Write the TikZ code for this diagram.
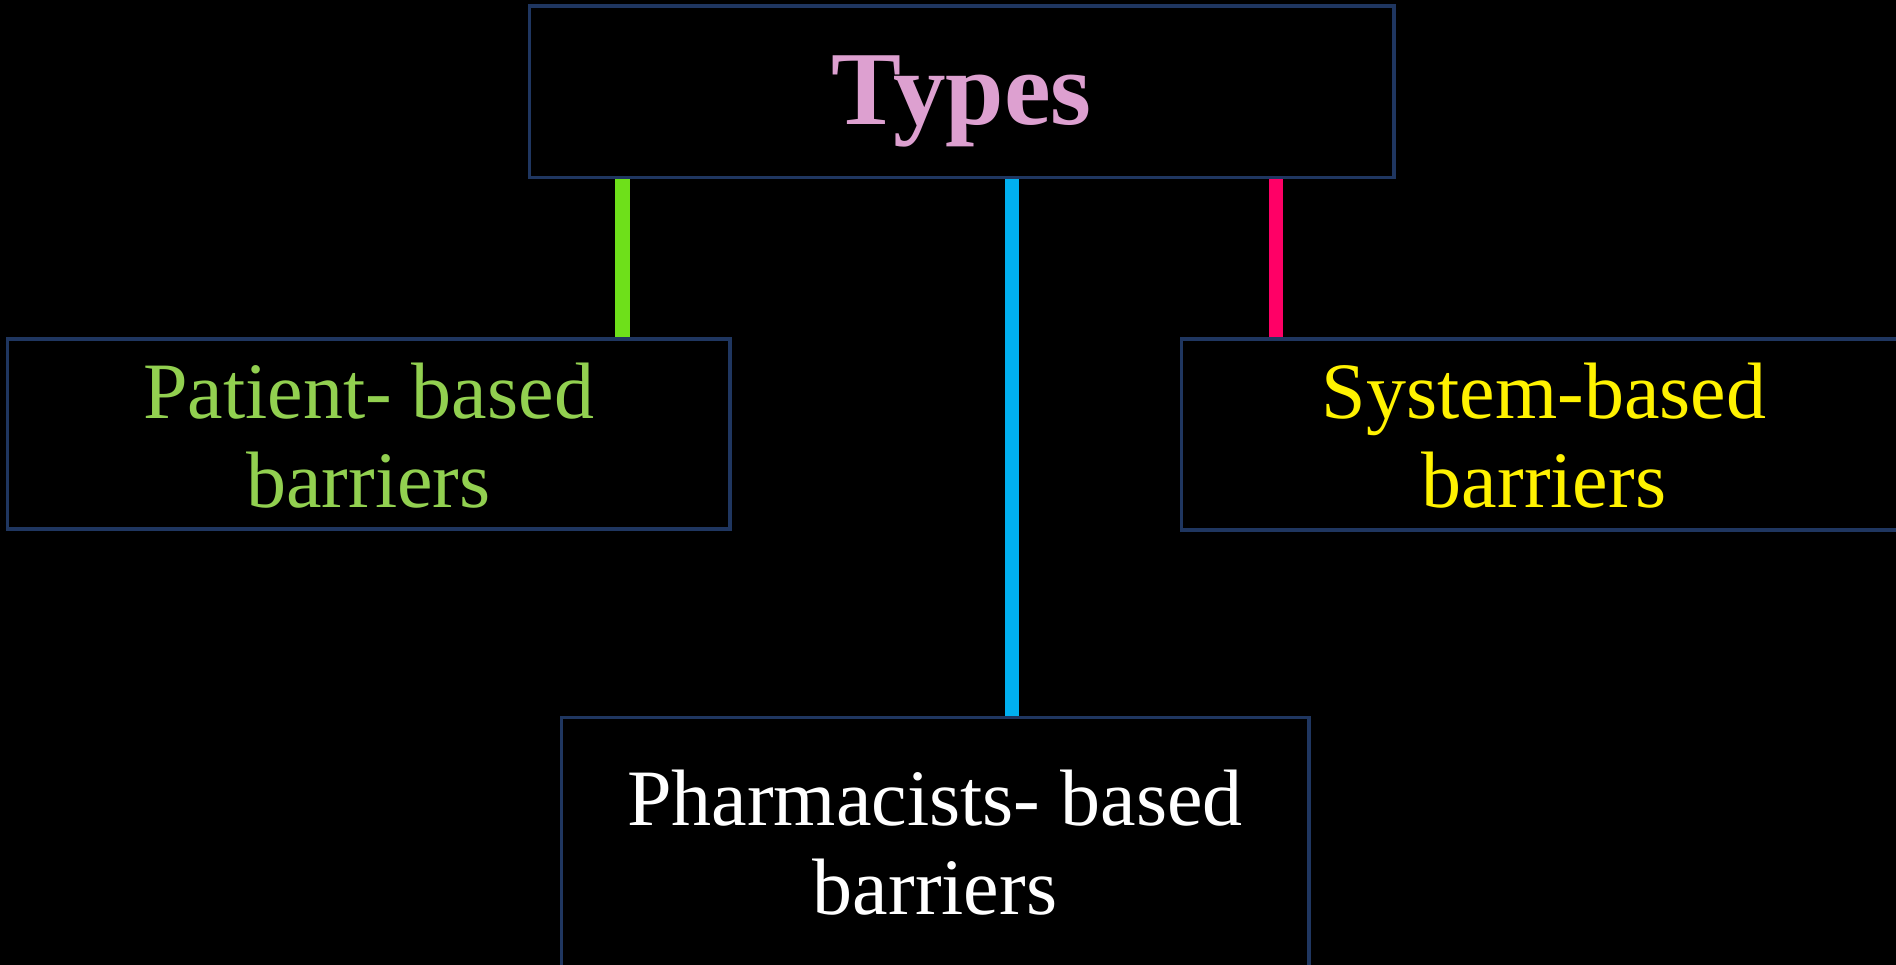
\documentclass[tikz,border=0pt]{standalone}
\usepackage{fontspec}
\setmainfont{Liberation Serif}
\definecolor{bordc}{HTML}{1F3660}
\definecolor{typesc}{HTML}{DDA0D0}
\definecolor{greentxt}{HTML}{92D050}
\definecolor{greenln}{HTML}{6EE01A}
\definecolor{blueln}{HTML}{00B0F0}
\definecolor{pinkln}{HTML}{FF0066}
\begin{document}
\begin{tikzpicture}[x=1pt,y=-1pt,
  boxst/.style={draw=bordc, line width=2.5pt, rectangle, inner sep=0pt, align=center},
  lbl/.style={font=\fontsize{80}{89}\selectfont, align=center, inner sep=0pt},
  conn/.style={line cap=butt}]
\fill[black] (0,0) rectangle (1896,965);
\useasboundingbox (0,0) rectangle (1896,965);
\clip (0,0) rectangle (1896,965);
\node[boxst, minimum width=863pt, minimum height=170pt] (types) at (961.5,92) {};
\node[boxst, minimum width=721pt, minimum height=188pt] (patient) at (368.5,434) {};
\node[boxst, minimum width=724pt, minimum height=189pt] (system) at (1544,434.5) {};
\node[boxst, minimum width=746pt, minimum height=260pt] (pharm) at (935,848) {};
% connectors
\draw[conn, greenln, line width=15pt] (types.south -| 622,0) -- (patient.north -| 622,0);
\draw[conn, blueln, line width=14pt] (types.south -| 1012,0) -- (pharm.north -| 1012,0);
\draw[conn, pinkln, line width=14pt] (types.south -| 1276,0) -- (system.north -| 1276,0);
\draw[bordc, line width=2.5pt] (types.south west) rectangle (types.north east);
\draw[bordc, line width=2.5pt] (patient.south west) rectangle (patient.north east);
\draw[bordc, line width=2.5pt] (system.south west) rectangle (system.north east);
\draw[bordc, line width=2.5pt] (pharm.south west) rectangle (pharm.north east);
% texts
\node[inner sep=0pt, text=typesc, font=\fontsize{105}{120}\selectfont\bfseries] (typest) at (961.5,101) {Types};
\node[lbl, text=greentxt] (patientt) at (368.5,436) {Patient- based\\barriers};
\node[lbl, text=yellow] (systemt) at (1544,436) {System-based\\barriers};
\node[lbl, text=white] (pharmt) at (935,843) {Pharmacists- based\\barriers};
\end{tikzpicture}
\end{document}
